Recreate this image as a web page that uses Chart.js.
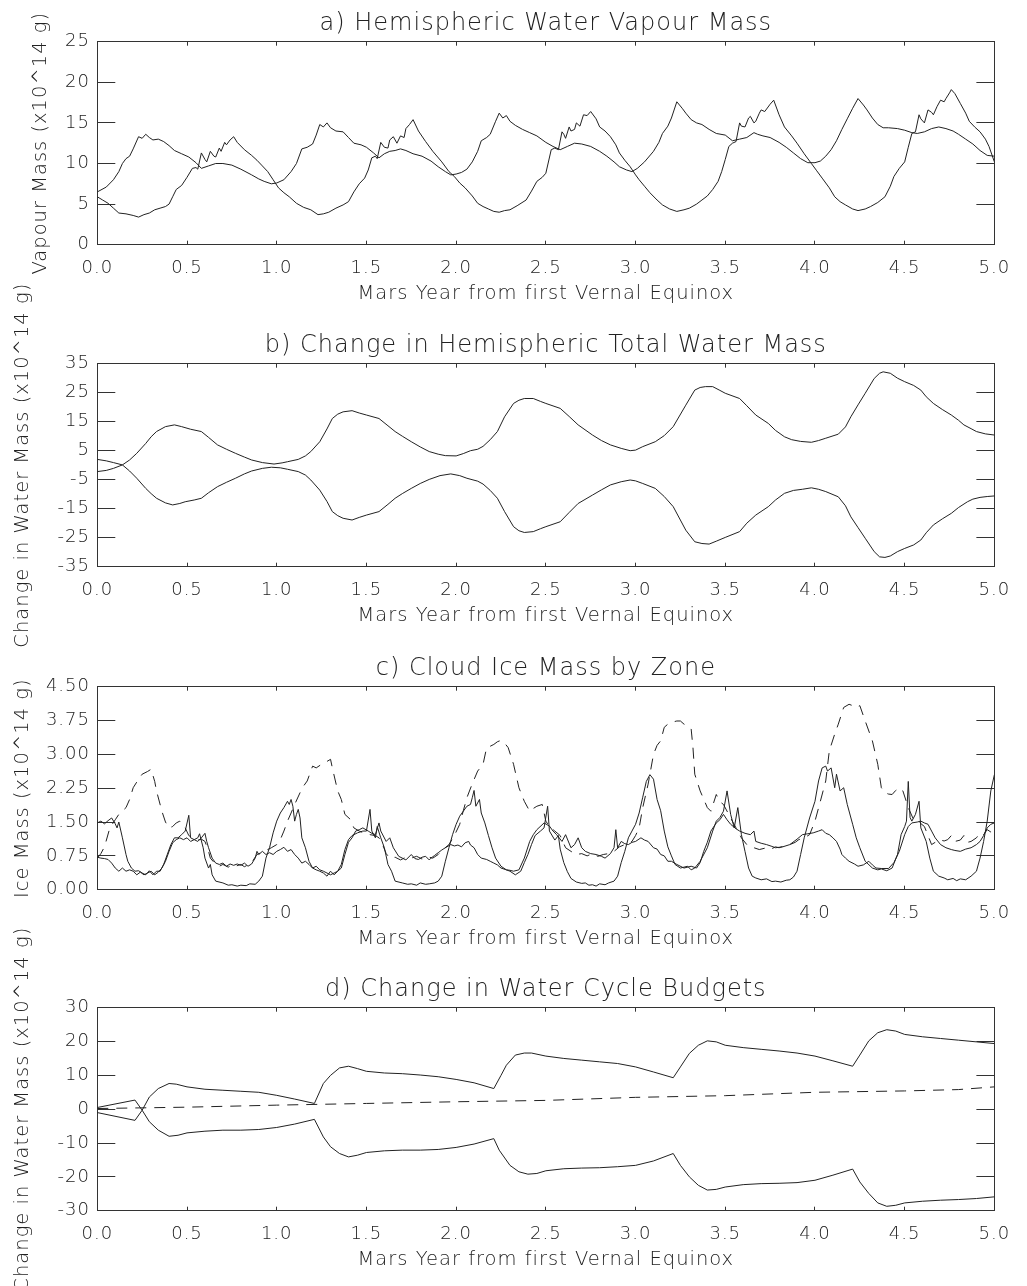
<!DOCTYPE html>
<html><head><meta charset="utf-8">
<script src="https://cdn.jsdelivr.net/npm/chart.js@4.4.1/dist/chart.umd.min.js"></script>
<style>
html,body{margin:0;padding:0;background:#fff;}
body{width:1027px;height:1286px;overflow:hidden;position:relative;}
.panel{position:absolute;left:0;width:1027px;height:442px;}
</style></head><body>
<div class="panel" style="top:-60px"><canvas id="ca"></canvas></div>
<div class="panel" style="top:262.3px"><canvas id="cb"></canvas></div>
<div class="panel" style="top:584.5px"><canvas id="cc"></canvas></div>
<div class="panel" style="top:906px"><canvas id="cd"></canvas></div>
<script>
// ---------- shared axis data ----------
const xTickValues = [0,0.5,1,1.5,2,2.5,3,3.5,4,4.5,5];
const xTickLabels = ['0.0','0.5','1.0','1.5','2.0','2.5','3.0','3.5','4.0','4.5','5.0'];
const xTitle = 'Mars Year from first Vernal Equinox';

// ---------- panel a ----------
const aTitle = 'a) Hemispheric Water Vapour Mass';
const aYTitle = 'Vapour Mass (x10^14 g)';
const aYTicks = [0,5,10,15,20,25];
const aYLabels = ['0','5','10','15','20','25'];
const aX1 = [0,0.05,0.09,0.12,0.14,0.16,0.18,0.2,0.23,0.25,0.27,0.29,0.31,0.34,0.37,0.4,0.43,0.47,0.51,0.55,0.58,0.62,0.66,0.7,0.75,0.8,0.86,0.9,0.93,0.97,1,1.04,1.08,1.11,1.14,1.17,1.2,1.22,1.24,1.26,1.28,1.3,1.33,1.37,1.4,1.43,1.47,1.5,1.54,1.57,1.6,1.63,1.66,1.69,1.72,1.76,1.81,1.86,1.9,1.94,1.97,2,2.03,2.06,2.09,2.12,2.14,2.17,2.19,2.22,2.24,2.26,2.28,2.3,2.33,2.37,2.41,2.45,2.5,2.54,2.58,2.62,2.66,2.7,2.75,2.8,2.84,2.88,2.91,2.95,2.98,3.01,3.05,3.1,3.13,3.15,3.18,3.2,3.23,3.26,3.28,3.31,3.34,3.37,3.41,3.45,3.5,3.54,3.58,3.62,3.66,3.68,3.71,3.75,3.8,3.84,3.88,3.92,3.96,4,4.03,4.06,4.09,4.12,4.15,4.18,4.21,4.24,4.27,4.29,4.32,4.35,4.38,4.41,4.46,4.5,4.54,4.57,4.61,4.65,4.69,4.73,4.77,4.8,4.84,4.88,4.92,4.96,5];
const aY1 = [6.5,7.1,8.0,9.0,10.0,10.6,10.9,11.8,13.3,13.1,13.6,13.2,12.9,13.0,12.7,12.2,11.6,11.2,10.8,10.1,9.4,9.7,10.0,10.0,9.8,9.3,8.6,8.1,7.8,7.5,7.6,8.0,9.0,10.0,11.8,12.0,12.4,13.5,14.8,14.5,15.0,14.4,14.0,13.9,13.2,12.5,12.3,12.0,11.3,10.7,11.2,11.5,11.6,11.8,11.6,11.2,10.9,10.3,9.6,9.0,8.6,8.7,8.9,9.3,10.2,11.5,12.8,13.2,13.6,15.2,16.2,15.6,15.9,15.2,14.7,14.2,13.8,13.4,12.6,12.1,11.7,12.1,12.5,12.4,12.1,11.5,10.9,10.2,9.6,9.2,9.0,9.4,10.2,11.5,12.6,13.7,14.6,15.6,17.6,16.8,16.2,15.4,15.0,14.8,14.2,13.7,13.5,12.8,13.0,13.2,13.8,13.6,13.4,13.2,12.6,12.0,11.3,10.6,10.1,10.1,10.3,10.9,11.7,12.8,14.2,15.5,16.8,18.0,17.2,16.6,15.6,14.8,14.4,14.4,14.3,14.1,13.8,13.7,13.9,14.3,14.5,14.3,14.0,13.6,13.0,12.4,11.6,11.0,10.9];
const aX2 = [0,0.03,0.06,0.09,0.12,0.16,0.2,0.23,0.26,0.29,0.32,0.35,0.38,0.4,0.42,0.44,0.47,0.5,0.53,0.55,0.56,0.58,0.6,0.61,0.63,0.65,0.66,0.68,0.69,0.71,0.72,0.74,0.76,0.78,0.82,0.86,0.89,0.92,0.95,0.98,1.01,1.04,1.07,1.11,1.15,1.19,1.23,1.26,1.29,1.33,1.37,1.4,1.43,1.46,1.49,1.51,1.53,1.55,1.56,1.58,1.6,1.62,1.63,1.65,1.67,1.69,1.71,1.72,1.74,1.76,1.79,1.83,1.87,1.92,1.96,1.99,2.02,2.05,2.09,2.12,2.15,2.18,2.21,2.24,2.27,2.3,2.34,2.39,2.42,2.45,2.48,2.5,2.53,2.55,2.57,2.59,2.6,2.61,2.63,2.64,2.66,2.67,2.69,2.71,2.73,2.75,2.78,2.8,2.83,2.86,2.89,2.91,2.94,2.97,3,3.02,3.05,3.08,3.12,3.15,3.19,3.23,3.27,3.3,3.34,3.37,3.4,3.43,3.46,3.48,3.5,3.52,3.54,3.56,3.58,3.59,3.61,3.63,3.64,3.66,3.67,3.69,3.7,3.72,3.75,3.77,3.8,3.83,3.87,3.9,3.94,3.98,4.01,4.04,4.08,4.11,4.14,4.17,4.21,4.24,4.28,4.31,4.35,4.39,4.42,4.44,4.47,4.5,4.52,4.54,4.56,4.58,4.59,4.61,4.63,4.65,4.66,4.68,4.7,4.72,4.73,4.75,4.76,4.78,4.81,4.84,4.86,4.89,4.92,4.95,4.97,5];
const aY2 = [5.9,5.5,5.1,4.5,3.9,3.8,3.6,3.4,3.7,3.9,4.3,4.5,4.7,5.0,5.9,6.8,7.3,8.3,9.4,9.5,9.3,11.3,10.5,10.2,11.5,10.9,10.8,11.9,11.5,12.6,12.3,12.9,13.3,12.6,11.7,11.0,10.4,9.7,9.0,8.0,7.0,6.4,5.9,5.1,4.6,4.3,3.7,3.8,4.0,4.5,4.9,5.3,6.5,7.5,8.2,9.2,10.7,10.9,10.6,12.6,12.0,11.9,12.9,13.3,12.5,13.4,13.2,14.3,14.8,15.4,14.0,12.7,11.5,10.2,9.0,8.4,7.6,7.0,6.0,5.1,4.7,4.4,4.1,4.0,4.2,4.3,4.8,5.5,6.6,7.8,8.3,8.8,11.7,11.9,11.7,13.9,13.6,13.1,14.5,14.0,14.2,15.0,14.6,16.0,15.9,16.4,15.5,14.5,14.0,13.3,12.3,11.3,10.4,9.6,8.6,8.0,7.2,6.4,5.5,4.9,4.4,4.1,4.3,4.5,5.0,5.5,6.0,6.8,7.8,9.0,10.5,12.1,12.5,12.7,15.0,14.6,14.5,15.6,15.8,15.0,15.2,16.2,16.6,16.4,17.3,17.8,16.0,14.5,13.4,12.5,11.2,10.0,9.1,8.2,7.0,5.9,5.3,4.9,4.4,4.2,4.4,4.7,5.2,5.9,7.2,8.4,9.4,10.2,12.0,13.7,13.9,16.0,15.5,15.0,16.6,16.3,16.0,17.0,17.8,17.6,18.0,18.7,19.1,18.6,17.4,16.2,15.2,14.5,13.9,13.0,12.1,10.2];

// ---------- panel b ----------
const bTitle = 'b) Change in Hemispheric Total Water Mass';
const bYTitle = 'Change in Water Mass (x10^14 g)';
const bYTicks = [-35,-25,-15,-5,5,15,25,35];
const bYLabels = ['-35','-25','-15','-5','5','15','25','35'];
const bX1 = [0,0.05,0.09,0.14,0.18,0.22,0.27,0.3,0.33,0.38,0.43,0.47,0.52,0.58,0.62,0.67,0.72,0.77,0.82,0.86,0.92,0.985,1.03,1.06,1.12,1.16,1.19,1.24,1.28,1.31,1.34,1.37,1.42,1.46,1.5,1.57,1.62,1.66,1.7,1.75,1.8,1.85,1.9,1.94,2,2.04,2.08,2.12,2.15,2.19,2.23,2.27,2.32,2.35,2.38,2.43,2.47,2.5,2.58,2.63,2.68,2.76,2.81,2.86,2.92,2.97,3,3.04,3.11,3.16,3.21,3.28,3.33,3.36,3.39,3.43,3.47,3.5,3.58,3.62,3.67,3.74,3.78,3.83,3.87,3.92,3.98,4.02,4.06,4.13,4.17,4.2,4.24,4.28,4.33,4.36,4.38,4.42,4.46,4.5,4.55,4.59,4.62,4.66,4.71,4.76,4.8,4.83,4.87,4.9,4.95,5];
const bY1 = [-2.2,-1.8,-1.1,0.1,1.8,4.1,7.5,9.8,11.6,13.3,13.9,13.3,12.4,11.6,9.6,7.0,5.5,4.1,2.8,1.8,0.9,0.4,0.8,1.2,2.0,3.2,4.7,8.1,12.5,16.1,17.6,18.4,18.8,18.0,17.3,16.1,13.6,11.6,10.0,8.1,6.3,4.7,3.8,3.3,3.2,4.0,5.0,5.5,6.5,8.8,11.6,16.7,21.3,22.4,23.0,23.0,22.0,21.3,19.6,16.8,13.9,10.4,8.5,7.0,5.8,5.0,5.2,6.4,8.1,10.2,13.3,20.7,25.9,26.8,27.1,27.1,25.8,24.8,23.0,20.5,17.3,14.4,12.0,9.8,8.8,8.2,7.9,8.5,9.3,10.7,13.2,16.7,20.8,24.8,29.9,31.7,32.2,31.7,30.0,28.8,27.5,25.9,23.6,21.3,19.2,17.3,15.5,13.9,12.6,11.6,10.8,10.4];
const bX2 = [0,0.05,0.09,0.14,0.18,0.22,0.27,0.3,0.33,0.38,0.42,0.46,0.49,0.54,0.58,0.62,0.67,0.72,0.77,0.82,0.86,0.92,0.97,1.02,1.06,1.12,1.16,1.19,1.24,1.28,1.31,1.34,1.37,1.42,1.46,1.5,1.57,1.62,1.66,1.7,1.75,1.8,1.85,1.91,1.97,2.02,2.06,2.12,2.15,2.19,2.23,2.27,2.32,2.35,2.38,2.43,2.47,2.5,2.58,2.63,2.68,2.76,2.81,2.86,2.92,2.97,3,3.04,3.11,3.16,3.21,3.28,3.33,3.37,3.41,3.45,3.5,3.58,3.62,3.67,3.74,3.78,3.83,3.88,3.93,3.98,4.02,4.06,4.13,4.17,4.2,4.24,4.28,4.33,4.36,4.39,4.42,4.46,4.5,4.55,4.59,4.62,4.66,4.71,4.76,4.8,4.85,4.88,4.92,4.96,5];
const bY2 = [2.0,1.5,0.9,0.1,-2.0,-4.5,-8.0,-9.8,-11.4,-13.0,-13.7,-13.2,-12.6,-12.0,-11.4,-9.5,-7.4,-5.9,-4.5,-3.0,-2.0,-1.1,-0.7,-0.9,-1.4,-2.2,-3.4,-5.1,-8.6,-12.5,-16.0,-17.4,-18.3,-18.9,-18.0,-17.2,-16.0,-13.5,-11.4,-9.8,-8.0,-6.3,-4.9,-3.6,-3.0,-3.6,-4.5,-5.5,-6.5,-8.7,-11.4,-16.0,-21.2,-22.6,-23.2,-22.9,-21.9,-21.2,-19.5,-16.3,-13.2,-10.3,-8.5,-6.8,-5.7,-5.1,-5.4,-6.3,-8.0,-10.8,-14.3,-22.4,-26.4,-27.0,-27.2,-26.2,-24.9,-22.9,-20.0,-17.2,-14.3,-12.0,-9.7,-8.7,-8.3,-7.8,-8.3,-9.1,-10.9,-14.0,-17.8,-21.5,-25.2,-29.8,-31.6,-31.8,-31.3,-29.8,-28.7,-27.5,-25.8,-23.3,-20.6,-18.5,-16.6,-14.6,-12.6,-11.7,-11.1,-10.8,-10.6];

// ---------- panel c ----------
const cTitle = 'c) Cloud Ice Mass by Zone';
const cYTitle = 'Ice Mass (x10^14 g)';
const cYTicks = [0,0.75,1.5,2.25,3,3.75,4.5];
const cYLabels = ['0.00','0.75','1.50','2.25','3.00','3.75','4.50'];
const cX1 = [0,0.02,0.04,0.06,0.08,0.1,0.11,0.12,0.14,0.16,0.17,0.19,0.21,0.23,0.25,0.27,0.29,0.31,0.33,0.35,0.37,0.39,0.41,0.43,0.45,0.47,0.49,0.51,0.52,0.54,0.56,0.57,0.59,0.6,0.62,0.63,0.64,0.66,0.7,0.73,0.75,0.78,0.8,0.83,0.85,0.88,0.9,0.92,0.94,0.96,0.98,1,1.02,1.04,1.06,1.07,1.08,1.09,1.1,1.11,1.12,1.13,1.14,1.16,1.18,1.2,1.22,1.24,1.26,1.28,1.3,1.32,1.34,1.36,1.38,1.4,1.42,1.45,1.48,1.5,1.52,1.53,1.55,1.56,1.58,1.6,1.62,1.64,1.66,1.7,1.73,1.75,1.78,1.8,1.83,1.85,1.88,1.9,1.92,1.94,1.96,1.98,2,2.02,2.04,2.06,2.08,2.09,2.1,2.11,2.13,2.14,2.16,2.18,2.2,2.22,2.25,2.28,2.3,2.33,2.36,2.38,2.4,2.42,2.44,2.47,2.49,2.51,2.52,2.55,2.57,2.58,2.6,2.62,2.64,2.67,2.7,2.72,2.74,2.76,2.78,2.8,2.83,2.85,2.88,2.9,2.92,2.94,2.96,2.98,3,3.02,3.04,3.06,3.08,3.1,3.12,3.14,3.16,3.18,3.2,3.22,3.25,3.29,3.31,3.33,3.36,3.4,3.43,3.45,3.47,3.49,3.51,3.53,3.55,3.57,3.59,3.61,3.63,3.65,3.67,3.7,3.73,3.76,3.78,3.81,3.84,3.86,3.88,3.9,3.92,3.94,3.97,4,4.02,4.04,4.06,4.07,4.09,4.11,4.12,4.14,4.16,4.18,4.21,4.23,4.25,4.28,4.32,4.35,4.37,4.4,4.43,4.46,4.48,4.5,4.51,4.52,4.53,4.54,4.56,4.58,4.59,4.62,4.64,4.66,4.69,4.72,4.74,4.77,4.79,4.81,4.84,4.87,4.9,4.92,4.94,4.96,4.98,5];
const cY1 = [1.48,1.52,1.46,1.53,1.59,1.46,1.37,1.5,1.15,0.78,0.63,0.48,0.41,0.42,0.37,0.33,0.42,0.33,0.41,0.41,0.56,0.78,1.0,1.15,1.15,1.22,1.3,1.65,1.15,1.11,1.15,1.24,0.93,0.7,0.48,0.56,0.33,0.19,0.15,0.1,0.11,0.08,0.1,0.09,0.13,0.12,0.19,0.3,0.7,0.93,1.26,1.52,1.7,1.82,1.96,1.89,2.0,1.85,1.52,1.67,1.78,1.59,1.15,0.93,0.63,0.48,0.44,0.41,0.37,0.3,0.41,0.33,0.41,0.56,0.89,1.11,1.2,1.26,1.3,1.3,1.78,1.3,1.15,1.4,1.15,0.93,0.56,0.41,0.19,0.15,0.12,0.13,0.1,0.15,0.12,0.13,0.15,0.19,0.3,0.63,0.93,1.22,1.45,1.63,1.74,1.85,1.89,2.04,2.2,1.85,2.0,1.7,1.48,1.2,0.93,0.7,0.52,0.44,0.41,0.33,0.41,0.6,0.78,1.0,1.2,1.3,1.37,1.85,1.3,1.1,1.2,0.9,0.6,0.4,0.25,0.17,0.14,0.15,0.1,0.11,0.08,0.13,0.11,0.15,0.19,0.3,0.6,0.85,1.15,1.3,1.45,1.7,2.05,2.4,2.55,2.45,2.0,1.75,1.3,0.95,0.75,0.56,0.48,0.52,0.44,0.48,0.63,0.93,1.3,1.52,1.6,1.74,2.19,1.67,1.37,1.82,1.22,0.85,0.48,0.3,0.26,0.22,0.24,0.18,0.19,0.17,0.21,0.22,0.28,0.41,0.78,1.15,1.59,1.96,2.41,2.7,2.74,2.63,2.7,2.26,2.56,2.19,2.26,1.89,1.45,1.15,0.93,0.63,0.48,0.44,0.46,0.42,0.48,0.78,1.22,1.4,1.52,2.4,1.6,1.52,1.67,1.96,1.37,1.07,0.7,0.41,0.3,0.26,0.22,0.25,0.2,0.24,0.22,0.3,0.41,0.7,1.07,1.52,2.19,2.55];
const cX2 = [0,0.02,0.04,0.06,0.08,0.1,0.12,0.14,0.16,0.18,0.2,0.22,0.24,0.26,0.28,0.3,0.32,0.34,0.36,0.38,0.4,0.42,0.44,0.46,0.48,0.5,0.52,0.54,0.56,0.58,0.6,0.61,0.62,0.64,0.66,0.68,0.7,0.72,0.74,0.76,0.78,0.8,0.82,0.84,0.86,0.88,0.89,0.9,0.92,0.94,0.96,0.98,1,1.02,1.04,1.06,1.08,1.1,1.12,1.14,1.16,1.18,1.2,1.22,1.24,1.26,1.28,1.3,1.32,1.34,1.36,1.38,1.4,1.42,1.44,1.46,1.48,1.51,1.53,1.55,1.57,1.58,1.61,1.63,1.65,1.68,1.7,1.72,1.75,1.77,1.79,1.81,1.83,1.85,1.86,1.88,1.9,1.92,1.94,1.97,1.99,2.01,2.03,2.05,2.07,2.08,2.1,2.12,2.14,2.17,2.19,2.21,2.23,2.25,2.28,2.3,2.32,2.35,2.38,2.41,2.43,2.45,2.49,2.52,2.54,2.56,2.59,2.61,2.64,2.66,2.68,2.7,2.72,2.75,2.78,2.81,2.83,2.86,2.88,2.89,2.9,2.92,2.94,2.96,2.98,3,3.03,3.05,3.07,3.1,3.12,3.14,3.16,3.18,3.2,3.23,3.27,3.31,3.34,3.36,3.38,3.4,3.42,3.45,3.47,3.49,3.51,3.53,3.56,3.58,3.61,3.64,3.66,3.67,3.7,3.73,3.76,3.78,3.82,3.86,3.9,3.93,3.96,3.99,4.02,4.04,4.06,4.08,4.1,4.12,4.14,4.15,4.17,4.19,4.22,4.24,4.27,4.3,4.32,4.34,4.37,4.41,4.44,4.47,4.5,4.52,4.54,4.57,4.59,4.61,4.63,4.65,4.67,4.7,4.73,4.76,4.78,4.81,4.84,4.87,4.9,4.92,4.94,4.96,4.98,5];
const cY2 = [0.72,0.7,0.69,0.67,0.59,0.48,0.41,0.48,0.41,0.44,0.41,0.33,0.39,0.33,0.37,0.41,0.33,0.39,0.48,0.63,0.85,1.04,1.11,1.15,1.11,1.15,1.07,1.11,1.07,1.15,1.25,1.07,0.93,0.7,0.59,0.56,0.59,0.52,0.57,0.54,0.57,0.54,0.59,0.52,0.57,0.7,0.85,0.78,0.85,0.78,0.82,0.78,0.85,0.89,0.94,0.85,0.89,0.78,0.7,0.59,0.63,0.56,0.48,0.52,0.44,0.41,0.37,0.33,0.37,0.41,0.48,0.78,1.05,1.15,1.3,1.33,1.37,1.3,1.25,1.22,1.48,1.3,1.07,1.15,0.93,0.74,0.7,0.66,0.78,0.69,0.67,0.72,0.74,0.66,0.7,0.76,0.82,0.88,0.93,1.0,0.97,0.99,0.95,1.04,1.07,0.99,0.93,0.78,0.7,0.67,0.63,0.59,0.55,0.48,0.44,0.43,0.41,0.44,0.7,1.07,1.22,1.33,1.48,1.41,1.3,1.22,1.07,1.22,0.93,1.0,1.15,0.93,0.85,0.8,0.78,0.74,0.7,0.8,0.93,1.33,0.93,1.07,1.02,1.0,1.05,1.07,1.15,1.1,1.07,0.93,0.9,0.78,0.75,0.63,0.63,0.56,0.48,0.52,0.48,0.6,0.85,1.05,1.3,1.48,1.55,1.67,1.55,1.45,1.35,1.3,1.25,1.22,1.3,1.07,1.03,1.0,0.96,0.93,0.95,1.0,1.12,1.22,1.24,1.26,1.3,1.33,1.25,1.22,1.15,1.07,0.9,0.78,0.7,0.63,0.57,0.52,0.55,0.63,0.55,0.48,0.47,0.47,0.6,0.85,1.22,1.4,1.48,1.5,1.52,1.48,1.45,1.3,1.15,1.0,0.93,0.89,0.87,0.85,0.9,0.93,1.0,1.07,1.2,1.37,1.45,1.48];
const cX3 = [0,0.02,0.04,0.07,0.1,0.12,0.16,0.18,0.2,0.23,0.25,0.28,0.3,0.32,0.33,0.36,0.38,0.4,0.42,0.44,0.46,0.47,0.49,0.51,0.53,0.56,0.58,0.6,0.62,0.63,0.66,0.68,0.7,0.73,0.75,0.77,0.8,0.82,0.84,0.86,0.89,0.93,0.97,1,1.02,1.04,1.06,1.08,1.1,1.13,1.15,1.17,1.2,1.22,1.25,1.27,1.3,1.31,1.34,1.36,1.38,1.41,1.43,1.46,1.49,1.52,1.55,1.57,1.59,1.61,1.63,1.66,1.69,1.72,1.75,1.78,1.81,1.84,1.87,1.9,1.93,1.96,1.99,2.02,2.04,2.06,2.09,2.12,2.15,2.17,2.19,2.21,2.23,2.25,2.27,2.29,2.32,2.35,2.38,2.41,2.43,2.45,2.48,2.5,2.52,2.55,2.58,2.61,2.64,2.67,2.7,2.73,2.76,2.79,2.82,2.85,2.88,2.91,2.94,2.98,3,3.02,3.04,3.07,3.1,3.12,3.14,3.16,3.18,3.2,3.23,3.25,3.27,3.29,3.31,3.32,3.33,3.36,3.4,3.42,3.45,3.47,3.49,3.53,3.56,3.59,3.62,3.66,3.69,3.72,3.75,3.78,3.8,3.83,3.86,3.89,3.91,3.94,3.97,4,4.03,4.06,4.08,4.11,4.13,4.16,4.19,4.21,4.23,4.25,4.28,4.32,4.35,4.37,4.39,4.41,4.43,4.45,4.47,4.49,4.52,4.55,4.58,4.61,4.63,4.65,4.67,4.69,4.72,4.74,4.76,4.78,4.81,4.83,4.85,4.87,4.9,4.92,4.94,4.96,4.98,5];
const cY3 = [0.7,0.8,0.95,1.37,1.55,1.67,1.82,2.0,2.26,2.45,2.56,2.62,2.67,2.4,2.19,1.74,1.5,1.37,1.4,1.48,1.52,1.48,1.37,1.2,1.15,1.1,1.12,1.07,0.85,0.7,0.56,0.52,0.56,0.5,0.55,0.52,0.56,0.51,0.55,0.6,0.78,0.85,0.93,1.0,1.11,1.3,1.52,1.7,1.89,2.15,2.3,2.41,2.74,2.7,2.78,2.82,2.89,2.7,2.19,2.0,1.67,1.56,1.37,1.3,1.25,1.22,1.2,1.15,1.0,0.8,0.7,0.72,0.66,0.72,0.7,0.74,0.68,0.73,0.7,0.78,0.9,1.0,1.2,1.45,1.75,2.04,2.35,2.63,2.78,3.15,3.18,3.22,3.28,3.31,3.25,3.15,2.78,2.26,1.96,1.74,1.8,1.85,1.89,1.52,1.4,1.3,1.2,0.93,0.85,0.78,0.8,0.75,0.8,0.74,0.78,0.8,0.85,0.95,1.0,1.07,1.2,1.37,1.82,2.34,3.0,3.2,3.3,3.6,3.67,3.71,3.74,3.74,3.67,3.63,3.56,3.15,2.56,2.19,1.82,1.74,2.11,1.95,1.89,1.59,1.37,1.15,1.0,0.93,0.89,0.92,0.89,0.95,0.93,0.97,1.0,1.05,1.11,1.15,1.22,1.52,1.96,2.41,3.08,3.45,3.67,4.04,4.11,4.08,4.04,4.08,3.74,3.3,2.78,2.26,2.15,2.12,2.11,2.2,2.26,2.19,1.82,1.55,1.5,1.4,1.2,1.0,1.05,1.11,1.08,1.11,1.2,1.07,1.1,1.2,1.05,1.07,1.15,1.26,1.22,1.33,1.28,1.3];

// ---------- panel d ----------
const dTitle = 'd) Change in Water Cycle Budgets';
const dYTitle = 'Change in Water Mass (x10^14 g)';
const dYTicks = [-30,-20,-10,0,10,20,30];
const dYLabels = ['-30','-20','-10','0','10','20','30'];
const dX1 = [0,0.21,0.25,0.29,0.34,0.4,0.45,0.5,0.6,0.7,0.8,0.9,1,1.1,1.21,1.26,1.3,1.35,1.4,1.45,1.5,1.6,1.7,1.8,1.9,2,2.1,2.21,2.24,2.3,2.35,2.4,2.45,2.5,2.6,2.7,2.8,2.9,3,3.1,3.21,3.25,3.3,3.35,3.4,3.45,3.5,3.6,3.7,3.8,3.9,4,4.1,4.21,4.25,4.3,4.35,4.4,4.45,4.5,4.6,4.7,4.8,4.9,5];
const dY1 = [0.5,2.7,-0.3,-3.7,-6.2,-8.0,-7.7,-7.0,-6.5,-6.2,-6.2,-6.0,-5.4,-4.4,-3.0,-8.2,-11.1,-13.1,-14.1,-13.6,-12.8,-12.3,-12.1,-12.1,-11.9,-11.3,-10.3,-8.7,-12.1,-16.6,-18.5,-19.2,-19.0,-18.2,-17.6,-17.4,-17.3,-17.0,-16.6,-15.3,-13.1,-16.6,-20.0,-22.5,-23.9,-23.7,-23.0,-22.3,-22.0,-21.9,-21.7,-21.0,-19.5,-17.7,-21.5,-24.9,-27.7,-28.7,-28.4,-27.7,-27.2,-26.9,-26.7,-26.4,-25.9];
const dX2 = [0,0.21,0.25,0.29,0.34,0.4,0.44,0.5,0.6,0.7,0.8,0.9,1,1.1,1.21,1.26,1.3,1.35,1.4,1.45,1.5,1.6,1.7,1.8,1.9,2,2.1,2.21,2.25,2.28,2.33,2.38,2.42,2.5,2.6,2.7,2.8,2.9,3,3.1,3.21,3.25,3.3,3.35,3.4,3.45,3.5,3.6,3.7,3.8,3.9,4,4.1,4.21,4.25,4.3,4.35,4.4,4.45,4.5,4.6,4.7,4.8,4.9,5];
const dY2 = [-1.0,-3.3,-0.3,3.6,6.1,7.6,7.4,6.6,5.9,5.6,5.3,5.0,4.1,3.0,1.7,7.6,10.0,12.2,12.7,12.0,11.2,10.7,10.5,10.1,9.6,8.8,7.8,6.1,10.0,13.0,16.0,16.6,16.6,15.7,15.0,14.5,14.0,13.5,12.5,11.0,9.3,12.5,16.5,18.9,20.2,19.9,18.9,18.2,17.7,17.2,16.6,15.7,14.3,12.7,16.0,20.2,22.6,23.5,23.1,22.1,21.4,20.9,20.4,19.9,19.4];
const dX3 = [0,0.5,1,1.5,2,2.5,3,3.5,4,4.5,4.8,5];
const dY3 = [0.2,0.6,1.2,1.7,2.2,2.6,3.5,4.0,5.0,5.4,5.8,6.6];

// ---------- rendering ----------
const E = 60;
const H = 442, W = 1027;
const PLOT_TOP = 41.7, PLOT_BOTTOM = 244.7, PLOT_LEFT = 97.3, PLOT_RIGHT = 1004.3;
const INK = '#222', FRAME = '#333';
const FAM = "'DejaVu Sans', 'Liberation Sans', sans-serif";
const WEIGHT = 200;
const TICK_SIZE = 18, AXIS_SIZE = 19.5, TITLE_SIZE = 24;
const AXIS_LH = AXIS_SIZE * 1.2, TITLE_LH = TITLE_SIZE * 1.2;
const XH = 293.5 - PLOT_BOTTOM + AXIS_LH / 2;
const TITLE_PAD_TOP = 24 - TITLE_LH / 2;
const TITLE_PAD_BOTTOM = PLOT_TOP - TITLE_PAD_TOP - TITLE_LH;
Chart.defaults.font.family = FAM;
Chart.defaults.font.weight = WEIGHT;

const spacingPlugin = {
  id: 'spacing',
  beforeUpdate(c) { c.ctx.letterSpacing = '1px'; },
  beforeLayout(c) { c.ctx.letterSpacing = '1px'; },
  beforeDraw(c) { c.ctx.letterSpacing = '1px'; }
};

function pts(xs, ys) { return xs.map((x, i) => ({x: x, y: ys[i]})); }
function fixedTicks(arr) { return s => { s.ticks = arr.map(v => ({value: v})); }; }

function makePanel(id, p) {
  const tickFont = {family: FAM, size: TICK_SIZE, weight: WEIGHT};
  const axisFont = {family: FAM, size: AXIS_SIZE, weight: WEIGHT};
  const titleFont = {family: FAM, size: TITLE_SIZE, weight: WEIGHT};
  const yFrame = {min: p.yMin, max: p.yMax, afterBuildTicks: fixedTicks(p.yTicks)};
  return new Chart(document.getElementById(id), {
    type: 'line',
    data: {
      datasets: p.series.map(s => ({
        data: pts(s.x, s.y),
        borderColor: INK, borderWidth: 1,
        borderDash: s.dash ? [11, 8] : [],
        pointRadius: 0, tension: 0, fill: false,
        xAxisID: 'x', yAxisID: 'y'
      }))
    },
    options: {
      responsive: true, maintainAspectRatio: false, animation: false,
      layout: {padding: {top: E, bottom: H - E - PLOT_BOTTOM - XH, left: 0, right: 0}},
      plugins: {
        legend: {display: false}, tooltip: {enabled: false},
        title: {display: true, text: p.title, color: INK, font: titleFont, fullSize: false,
                padding: {top: TITLE_PAD_TOP, bottom: TITLE_PAD_BOTTOM}}
      },
      scales: {
        x: {
          type: 'linear', position: 'bottom', min: 0, max: 5,
          afterBuildTicks: fixedTicks(xTickValues),
          ticks: {callback: (v, i) => xTickLabels[i], autoSkip: false, maxRotation: 0, minRotation: 0,
                  color: INK, font: tickFont, padding: 16.8},
          grid: {drawOnChartArea: false, drawTicks: true, tickLength: -4, color: FRAME, lineWidth: 1},
          border: {display: true, color: FRAME, width: 1},
          title: {display: true, text: xTitle, color: INK, font: axisFont, padding: {top: 0, bottom: 0}},
          afterFit: s => { s.height = XH; }
        },
        xTop: {
          type: 'linear', position: 'top', min: 0, max: 5,
          afterBuildTicks: fixedTicks(xTickValues),
          ticks: {display: false},
          grid: {drawOnChartArea: false, drawTicks: true, tickLength: -4, color: FRAME, lineWidth: 1},
          border: {display: true, color: FRAME, width: 1},
          afterFit: s => { s.height = 0; }
        },
        y: Object.assign({
          type: 'linear', position: 'left',
          ticks: {callback: (v, i) => p.yLabels[i], autoSkip: false, color: INK, font: tickFont, padding: 25.3},
          grid: {drawOnChartArea: false, drawTicks: true, tickLength: -18, color: FRAME, lineWidth: 1},
          border: {display: true, color: FRAME, width: 1},
          title: {display: true, text: p.yTitle, color: INK, font: axisFont, padding: {top: p.yTitleCenter - AXIS_LH / 2, bottom: 0}},
          afterFit: s => { s.width = PLOT_LEFT; }
        }, yFrame),
        yRight: Object.assign({
          type: 'linear', position: 'right',
          ticks: {display: false},
          grid: {drawOnChartArea: false, drawTicks: true, tickLength: -18, color: FRAME, lineWidth: 1},
          border: {display: true, color: FRAME, width: 1},
          afterFit: s => { s.width = W - PLOT_RIGHT; }
        }, yFrame)
      }
    },
    plugins: [spacingPlugin]
  });
}

makePanel('ca', {title: aTitle, yTitle: aYTitle, yTitleCenter: 41, yMin: 0, yMax: 25, yTicks: aYTicks, yLabels: aYLabels,
  series: [{x: aX1, y: aY1}, {x: aX2, y: aY2}]});
makePanel('cb', {title: bTitle, yTitle: bYTitle, yTitleCenter: 23, yMin: -35, yMax: 35, yTicks: bYTicks, yLabels: bYLabels,
  series: [{x: bX1, y: bY1}, {x: bX2, y: bY2}]});
makePanel('cc', {title: cTitle, yTitle: cYTitle, yTitleCenter: 23, yMin: 0, yMax: 4.5, yTicks: cYTicks, yLabels: cYLabels,
  series: [{x: cX1, y: cY1}, {x: cX2, y: cY2}, {x: cX3, y: cY3, dash: true}]});
makePanel('cd', {title: dTitle, yTitle: dYTitle, yTitleCenter: 23, yMin: -30, yMax: 30, yTicks: dYTicks, yLabels: dYLabels,
  series: [{x: dX1, y: dY1}, {x: dX2, y: dY2}, {x: dX3, y: dY3, dash: true}]});
</script>
</body></html>
